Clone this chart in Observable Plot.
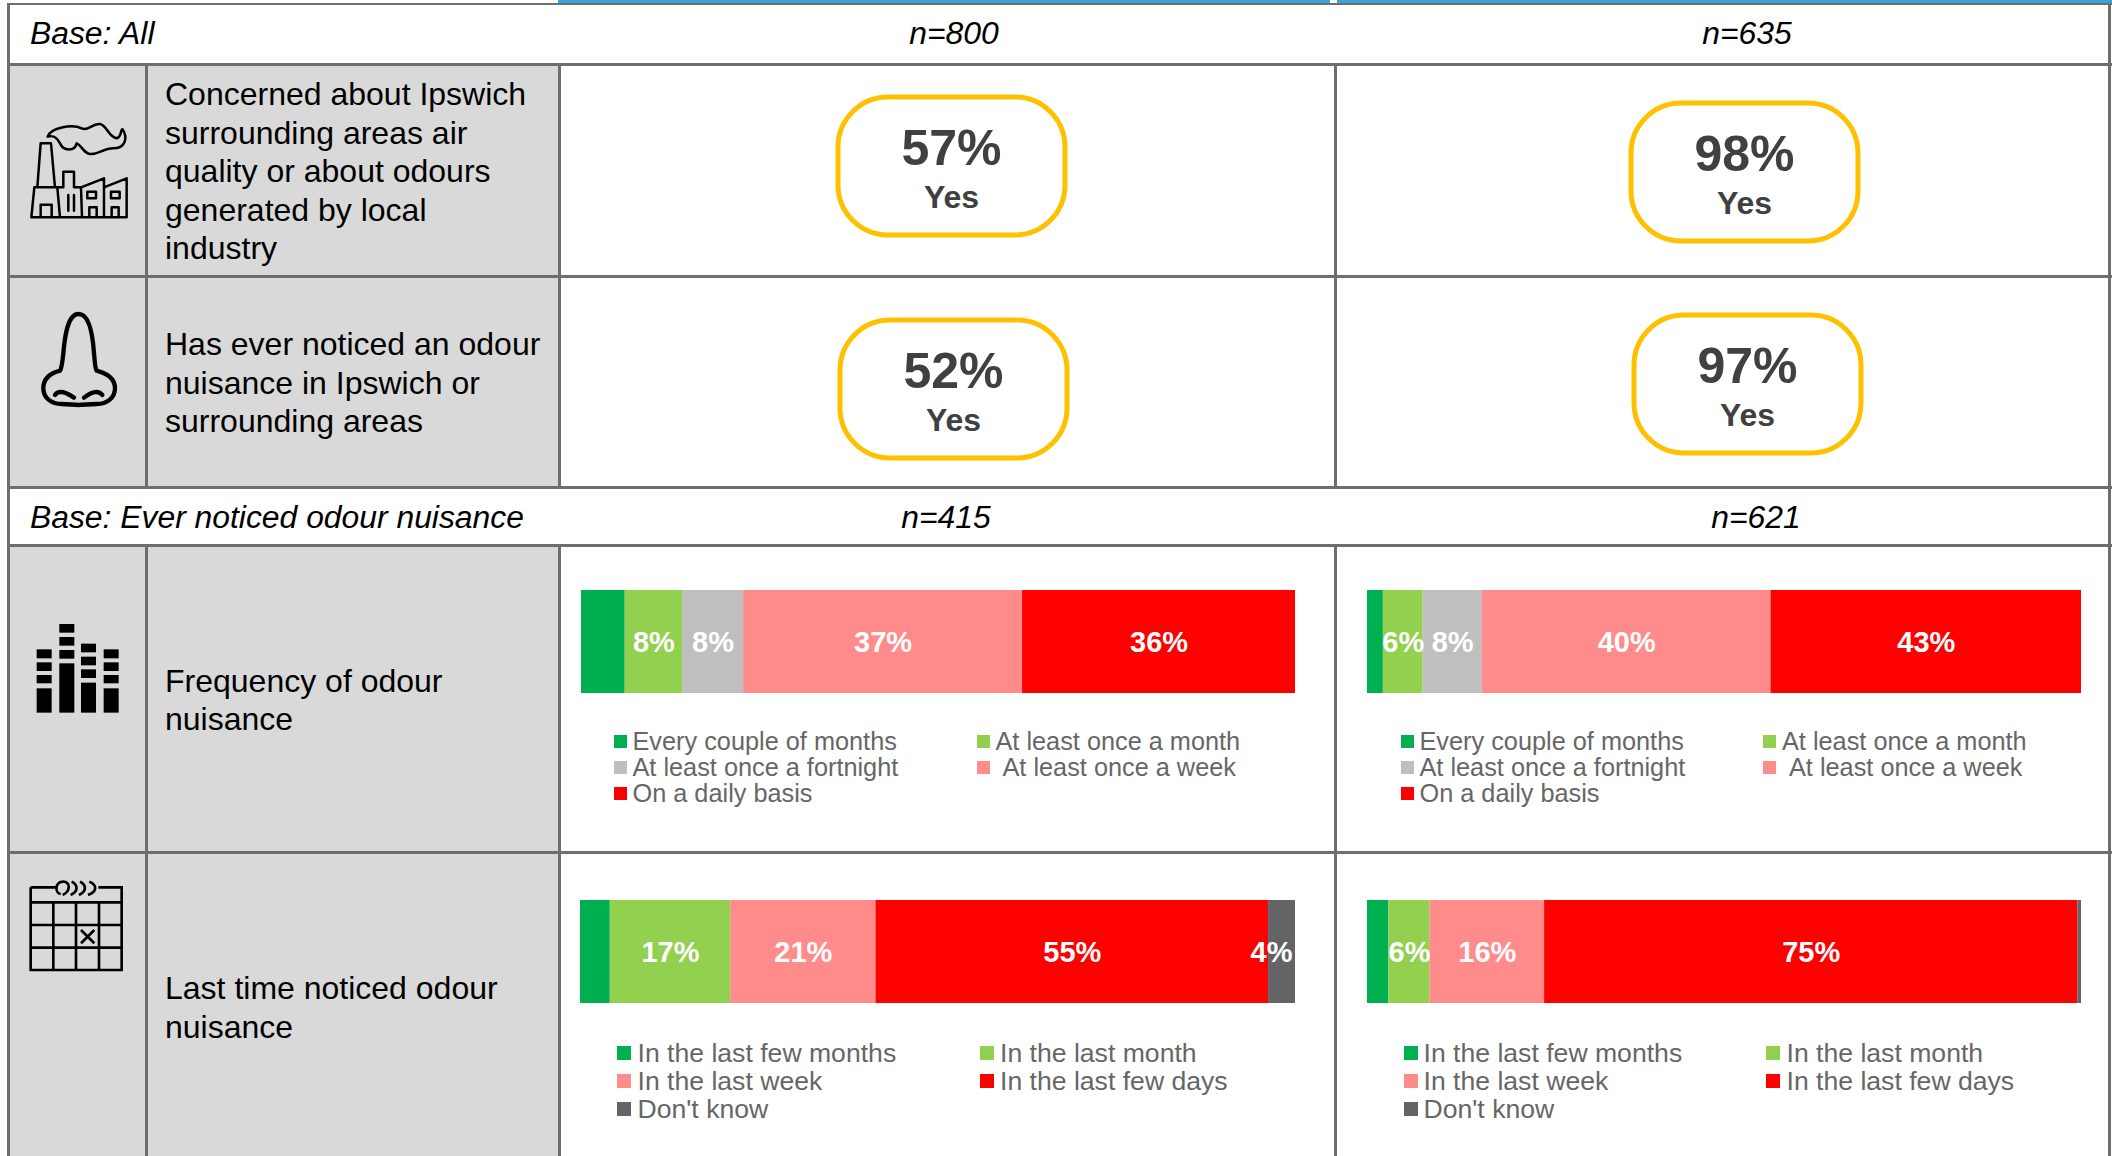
<!DOCTYPE html>
<html><head><meta charset="utf-8">
<script src="https://cdn.jsdelivr.net/npm/d3@7"></script>
<script src="https://cdn.jsdelivr.net/npm/@observablehq/plot@0.6"></script>
<style>
html,body{margin:0;padding:0;background:#fff;width:2112px;height:1156px;overflow:hidden;font-family:"Liberation Sans",Arial,sans-serif}
#page{position:relative;width:2112px;height:1156px;overflow:hidden}
#page>*{position:absolute}
.t{white-space:pre;color:#000;font-size:32px;line-height:40px}
.i{font-style:italic}
.lg{white-space:pre;color:#666;line-height:28px}
svg.plot{display:block;background:transparent}
</style></head><body><div id="page"></div>
<script>
// ---- data ----
const frequencyCategories = ["Every couple of months","At least once a month","At least once a fortnight","At least once a week","On a daily basis"];
const lastTimeCategories = ["In the last few months","In the last month","In the last week","In the last few days","Don't know"];
const frequencyColors = ["#00B050","#92D050","#BFBFBF","#FF8B8B","#FF0000"];
const lastTimeColors = ["#00B050","#92D050","#FF8B8B","#FF0000","#636466"];
const frequencyLeft = [5.8,7.6,8.1,37,36.2];
const frequencyRight = [2.2,5.5,8.2,40,43];
const lastTimeLeft = [4.2,17,20.5,55.4,3.8];
const lastTimeRight = [3,5.8,16.1,75,0.5];
const concernedYes = [57,98];
const noticedYes = [52,97];
const baseAll = ["n=800","n=635"];
const baseNoticed = ["n=415","n=621"];
const rowLabels = [
 ["Concerned about Ipswich","surrounding areas air","quality or about odours","generated by local","industry"],
 ["Has ever noticed an odour","nuisance in Ipswich or","surrounding areas"],
 ["Frequency of odour","nuisance"],
 ["Last time noticed odour","nuisance"]
];

// ---- page furniture ----
const page = document.getElementById("page");
const LINE = "#6E6E6E";
function box(x,y,w,h,c){const d=document.createElement("div");d.style.cssText=`left:${x}px;top:${y}px;width:${w}px;height:${h}px;background:${c}`;page.append(d);return d}
function text(x,base,s,o={}){
  const fs=o.size||32,L=40,d=document.createElement("div");
  d.className=(o.cls||"t")+(o.italic?" i":"");
  d.textContent=s;
  d.style.fontSize=fs+"px";d.style.lineHeight=L+"px";
  d.style.top=(base-(L/2+0.3465*fs))+"px";
  if(o.center!=null){d.style.left=o.center+"px";d.style.transform="translateX(-50%)"}else d.style.left=x+"px";
  page.append(d);
}
// blue strip above the table, grey cells, rules
box(558,0,772,3,"#35A8D8");box(1337,0,775,3,"#35A8D8");
box(8,64,551,423,"#D9D9D9");box(8,545,551,611,"#D9D9D9");
[[3,2],[63,3],[275,3],[486,3],[544,3],[851,3]].forEach(([y,h])=>box(7,y,2105,h,LINE));
box(7,3,3,1153,LINE);box(2108,3,3,1153,LINE);
box(145,63,3,425,LINE);box(145,544,3,612,LINE);
box(558,63,3,425,LINE);box(1334,63,3,425,LINE);
box(558,544,3,612,LINE);box(1334,544,3,612,LINE);

// row text
const ITALIC=31.85;
text(30,44.5,"Base: All",{italic:true,size:ITALIC});
text(0,44.5,baseAll[0],{italic:true,center:954,size:ITALIC});
text(0,44.5,baseAll[1],{italic:true,center:1747,size:ITALIC});
text(30,528,"Base: Ever noticed odour nuisance",{italic:true,size:ITALIC});
text(0,528,baseNoticed[0],{italic:true,center:946,size:ITALIC});
text(0,528,baseNoticed[1],{italic:true,center:1756,size:ITALIC});
rowLabels[0].forEach((s,i)=>text(165,105+i*38.6,s));
rowLabels[1].forEach((s,i)=>text(165,355+i*38.6,s));
rowLabels[2].forEach((s,i)=>text(165,692.5+i*38,s));
rowLabels[3].forEach((s,i)=>text(165,999+i*39,s));

// icons
const icons = document.createElementNS("http://www.w3.org/2000/svg","svg");
icons.setAttribute("width",2112);icons.setAttribute("height",1156);icons.style.cssText="left:0;top:0;pointer-events:none";
const rect=(x1,y1,x2,y2)=>`<rect x="${x1}" y="${y1}" width="${x2-x1}" height="${y2-y1}"/>`;
const barsCols=[[110,155,[[148,175],[187,213],[225,250],[265,338]]],[178,223,[[72,98],[111,137],[150,176],[190,338]]],[243,288,[[131,157],[170,196],[208,234],[248,338]]],[311,356,[[148,175],[187,213],[225,250],[265,338]]]];
icons.innerHTML=`
<g transform="translate(0,100) scale(0.3333)" fill="none" stroke="#000" stroke-width="7.5" stroke-linejoin="round" stroke-linecap="round">
 <path d="M112 262L122 130H153L165 262M94 352H380M94 352L103 262H172L180 352M122 352V314H155V352M172 262H190V215H222V262H243L246 352M205 285V332M222 285V332M243 262L312 235V352M312 262L380 235V352M268 352V322H290V352M335 352V322H356V352"/>
 ${rect(262,275,288,295)}${rect(333,275,359,295)}
 <path d="M143 110C150 85 215 70 245 85C265 95 275 70 300 72C320 75 325 110 350 115C365 112 362 85 368 88C385 115 375 145 340 145C310 145 295 165 270 162C250 160 245 135 230 130C225 155 190 155 180 130C170 110 160 105 143 110Z"/>
 <path stroke-width="13" d="M236 642C205 642 195 700 190 760C187 790 185 805 180 812C150 820 130 835 130 865C130 895 155 912 185 912C205 912 220 915 236 915C252 915 270 912 290 912C320 912 345 895 345 865C345 835 320 820 290 812C285 805 285 790 282 760C278 700 267 642 236 642Z"/>
 <path stroke-width="13" d="M165 885C175 870 195 875 222 893M252 893C275 875 295 870 307 885"/>
</g>
<g transform="translate(0,600) scale(0.3333)">
 ${barsCols.map(([a,b,rs])=>rs.map(([u,v])=>rect(a,u,b,v)).join("")).join("")}
 <g fill="none" stroke="#000" stroke-width="8">
  <path d="M92 862H168M295 862H365V1110H92V862M92 907H365M92 975H365M92 1043H365M160 907V1110M228 907V1110M297 907V1110"/>
  <path d="M243 990L283 1030M283 990L243 1030"/>
  <path stroke-width="8" d="M182 882C165 880 163 845 190 845C212 845 212 875 188 885M215 845C235 855 235 875 212 885M240 845C260 855 260 875 237 885M268 845C292 855 292 875 264 885"/>
 </g>
</g>`;
page.append(icons);

// ---- callouts, drawn by Plot ----
function callout(value,x,y){
  const p=Plot.plot({width:232,height:143,margin:0,style:{fontFamily:'"Liberation Sans",Arial,sans-serif',background:"transparent",overflow:"visible"},
    x:{axis:null},y:{axis:null},
    marks:[
      Plot.frame({stroke:"#FFC000",strokeWidth:5,rx:50,inset:2.5,fill:"#fff"}),
      Plot.text([value],{text:d=>`${d}%`,frameAnchor:"middle",dy:-17,fontSize:50,fontWeight:"bold",fill:"#404040"}),
      Plot.text(["Yes"],{text:d=>d,frameAnchor:"middle",dy:32,fontSize:32,fontWeight:"bold",fill:"#404040"})
    ]});
  p.style.left=x+"px";p.style.top=y+"px";page.append(p);
}
callout(concernedYes[0],835,94);
callout(concernedYes[1],1628,100);
callout(noticedYes[0],837,317);
callout(noticedYes[1],1631,311.5);

// ---- stacked bars, drawn by Plot ----
function stacked(cats,colors,values,x,y,w,endAnchored){
  const rows=cats.map((c,i)=>({cat:c,value:values[i],idx:i}));
  const opts={x:"value",order:null,offset:"normalize"};
  const label=d=>d.idx===0||d.value<1?"":`${Math.round(d.value)}%`;
  const font={fontSize:29,fontWeight:"bold",fill:"#fff",dy:1};
  const p=Plot.plot({width:w,height:103,margin:0,style:{fontFamily:'"Liberation Sans",Arial,sans-serif',background:"transparent"},
    x:{axis:null,domain:[0,1]},y:{axis:null},
    color:{domain:cats,range:colors},
    marks:[
      Plot.barX(rows,Plot.stackX({...opts,fill:"cat"})),
      Plot.text(rows,Plot.stackX({...opts,text:d=>(endAnchored&&d.idx===4)?"":label(d),...font})),
      Plot.text(rows,Plot.stackX2({...opts,text:d=>(endAnchored&&d.idx===4)?label(d):"",textAnchor:"end",dx:-3,...font}))
    ]});
  p.style.left=x+"px";p.style.top=y+"px";page.append(p);
}
stacked(frequencyCategories,frequencyColors,frequencyLeft,581,590,714);
stacked(frequencyCategories,frequencyColors,frequencyRight,1367,590,714);
stacked(lastTimeCategories,lastTimeColors,lastTimeLeft,580,900,715,true);
stacked(lastTimeCategories,lastTimeColors,lastTimeRight,1367,900,714);

// ---- legends ----
function legend(cats,colors,o){
  cats.forEach((c,i)=>{
    const col=i%2,row=Math.floor(i/2);
    const sx=o.sx[col],ty=o.y+row*o.dy;
    box(sx,ty-o.sw/2,o.sw,o.sw,colors[i]);
    const extra=(o.indent&&i===3)?o.indent:0;
    text(o.tx[col]+extra,ty+o.size*0.345,c,{cls:"lg",size:o.size});
  });
}
legend(frequencyCategories,frequencyColors,{sx:[614,977],tx:[632.5,995.5],y:741.5,dy:26,sw:13,size:25.3,indent:7});
legend(frequencyCategories,frequencyColors,{sx:[1401,1763],tx:[1419.5,1782],y:741.5,dy:26,sw:13,size:25.3,indent:7});
legend(lastTimeCategories,lastTimeColors,{sx:[617,980],tx:[637.5,1000],y:1053,dy:28,sw:14,size:26.6});
legend(lastTimeCategories,lastTimeColors,{sx:[1404,1766],tx:[1423.5,1786.5],y:1053,dy:28,sw:14,size:26.6});
</script></body></html>
